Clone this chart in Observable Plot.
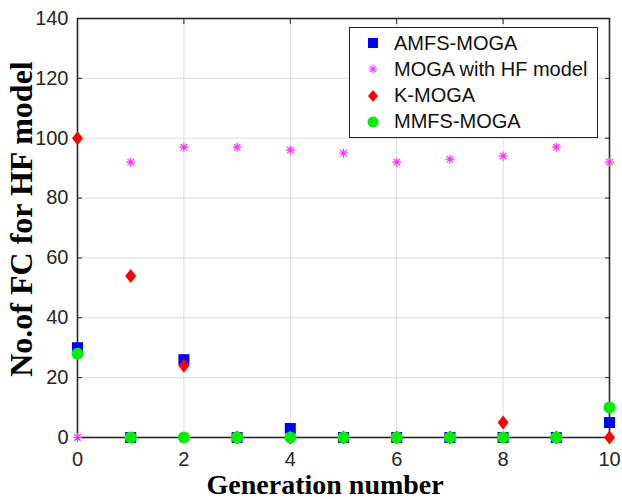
<!DOCTYPE html>
<html>
<head>
<meta charset="utf-8">
<script src="https://cdn.jsdelivr.net/npm/d3@7"></script>
<script src="https://cdn.jsdelivr.net/npm/@observablehq/plot@0.6"></script>
<style>
  body { margin: 0; background: #fff; }
  #wrap { position: relative; width: 622px; height: 499px; overflow: hidden; }
  #wrap svg text { font-family: "Liberation Sans", Arial, sans-serif; }
  .axlabel { position: absolute; font-family: "Liberation Serif", "Times New Roman", serif; font-weight: bold; color: #000; white-space: nowrap; line-height: 0.8; }
  #legend { position: absolute; left: 349px; top: 27px; width: 247px; height: 109px; border: 1.5px solid #262626; background: #fff; font-family: "Liberation Sans", Arial, sans-serif; font-size: 20px; color: #111; }
  #legend .row { position: absolute; left: 0; height: 26px; display: flex; align-items: center; white-space: nowrap; }
  #legend svg { margin-left: 17px; margin-right: 15px; flex: none; }
</style>
</head>
<body>
<div id="wrap"></div>
<script>
const generations = [0, 1, 2, 3, 4, 5, 6, 7, 8, 9, 10];
const seriesNames = ["AMFS-MOGA", "MOGA with HF model", "K-MOGA", "MMFS-MOGA"];
const amfs = [30, 0, 26, 0, 3, 0, 0, 0, 0, 0, 5];
const mogaHF = [0, 92, 97, 97, 96, 95, 92, 93, 94, 97, 92];
const kmoga = [100, 54, 24, 0, 0, 0, 0, 0, 5, 0, 0];
const mmfs = [28, 0, 0, 0, 0, 0, 0, 0, 0, 0, 10];
const xTicks = [0, 2, 4, 6, 8, 10];
const yTicks = [0, 20, 40, 60, 80, 100, 120, 140];
const xLabel = "Generation number";
const yLabel = "No.of FC for HF model";

const colors = {"AMFS-MOGA": "#0000ff", "MOGA with HF model": "#ff33ff", "K-MOGA": "#ff0000", "MMFS-MOGA": "#00ee00"};

const toRows = (vals) => generations.map((g, i) => ({g, v: vals[i]}));

// custom symbols
const diamondSym = { draw(ctx, size) { const w = 5.5, h = 7; ctx.moveTo(0, -h); ctx.lineTo(w, 0); ctx.lineTo(0, h); ctx.lineTo(-w, 0); ctx.closePath(); } };
const starSym = { draw(ctx, size) { const r = 4.5, d = r * 0.72;
  ctx.moveTo(-r, 0); ctx.lineTo(r, 0); ctx.moveTo(0, -r); ctx.lineTo(0, r);
  ctx.moveTo(-d, -d); ctx.lineTo(d, d); ctx.moveTo(-d, d); ctx.lineTo(d, -d); } };
const squareSym = { draw(ctx, size) { const s = 5.5; ctx.rect(-s, -s, 2 * s, 2 * s); } };
const circleSym = { draw(ctx, size) { ctx.arc(0, 0, 6, 0, 2 * Math.PI); } };

const chart = Plot.plot({
  width: 622, height: 499,
  marginLeft: 77, marginRight: 13, marginTop: 18, marginBottom: 62,
  x: {domain: [0, 10]},
  y: {domain: [0, 140]},
  style: {fontSize: "20px", color: "#262626", background: "#fff"},
  marks: [
    Plot.gridX(xTicks, {stroke: "#dcdcdc", strokeOpacity: 1}),
    Plot.gridY(yTicks, {stroke: "#dcdcdc", strokeOpacity: 1}),
    Plot.axisX(xTicks, {anchor: "bottom", tickSize: -5, tickPadding: 19, label: null, stroke: "#262626"}),
    Plot.axisX(xTicks, {anchor: "top", tickSize: -5, tickFormat: () => "", label: null, stroke: "#262626"}),
    Plot.axisY(yTicks, {anchor: "left", tickSize: -5, tickPadding: 14, label: null, stroke: "#262626"}),
    Plot.axisY(yTicks, {anchor: "right", tickSize: -5, tickFormat: () => "", label: null, stroke: "#262626"}),
    Plot.frame({stroke: "#262626", strokeWidth: 1.6}),
    Plot.dot(toRows(amfs), {x: "g", y: "v", symbol: squareSym, fill: colors["AMFS-MOGA"], stroke: "none"}),
    Plot.dot(toRows(mogaHF), {x: "g", y: "v", symbol: starSym, fill: "none", stroke: colors["MOGA with HF model"], strokeWidth: 1.2}),
    Plot.dot(toRows(kmoga), {x: "g", y: "v", symbol: diamondSym, fill: colors["K-MOGA"], stroke: "none"}),
    Plot.dot(toRows(mmfs), {x: "g", y: "v", symbol: circleSym, fill: colors["MMFS-MOGA"], stroke: "none"})
  ]
});

const wrap = document.getElementById("wrap");
wrap.appendChild(chart);

// axis labels
const xl = document.createElement("div");
xl.className = "axlabel"; xl.textContent = xLabel;
xl.style.fontSize = "28px";
wrap.appendChild(xl);
xl.style.left = (325 - xl.offsetWidth / 2) + "px";
xl.style.top = "474px";

const yl = document.createElement("div");
yl.className = "axlabel"; yl.textContent = yLabel;
yl.style.fontSize = "32px";
yl.style.lineHeight = "1";
wrap.appendChild(yl);
const w = yl.offsetWidth, h = yl.offsetHeight;
yl.style.left = (21 - w / 2) + "px";
yl.style.top = (219 - h / 2) + "px";
yl.style.transform = "rotate(-90deg)";

// legend
const legend = document.createElement("div");
legend.id = "legend";
const legendIcons = {
  "AMFS-MOGA": '<rect x="1" y="1" width="10" height="10" fill="#0000ff"/>',
  "MOGA with HF model": '<g stroke="#ff33ff" stroke-width="1.1"><path d="M1.5,6H10.5M6,1.5V10.5M2.8,2.8L9.2,9.2M2.8,9.2L9.2,2.8"/></g>',
  "K-MOGA": '<path d="M6,0L11,6L6,12L1,6Z" fill="#ff0000"/>',
  "MMFS-MOGA": '<circle cx="6" cy="6" r="5.5" fill="#00ee00"/>'
};
seriesNames.forEach((name, i) => {
  const row = document.createElement("div");
  row.className = "row";
  row.style.top = (2 + i * 26.3) + "px";
  row.innerHTML = `<svg width="12" height="12" viewBox="0 0 12 12">${legendIcons[name]}</svg><span>${name}</span>`;
  legend.appendChild(row);
});
wrap.appendChild(legend);
</script>
</body>
</html>
